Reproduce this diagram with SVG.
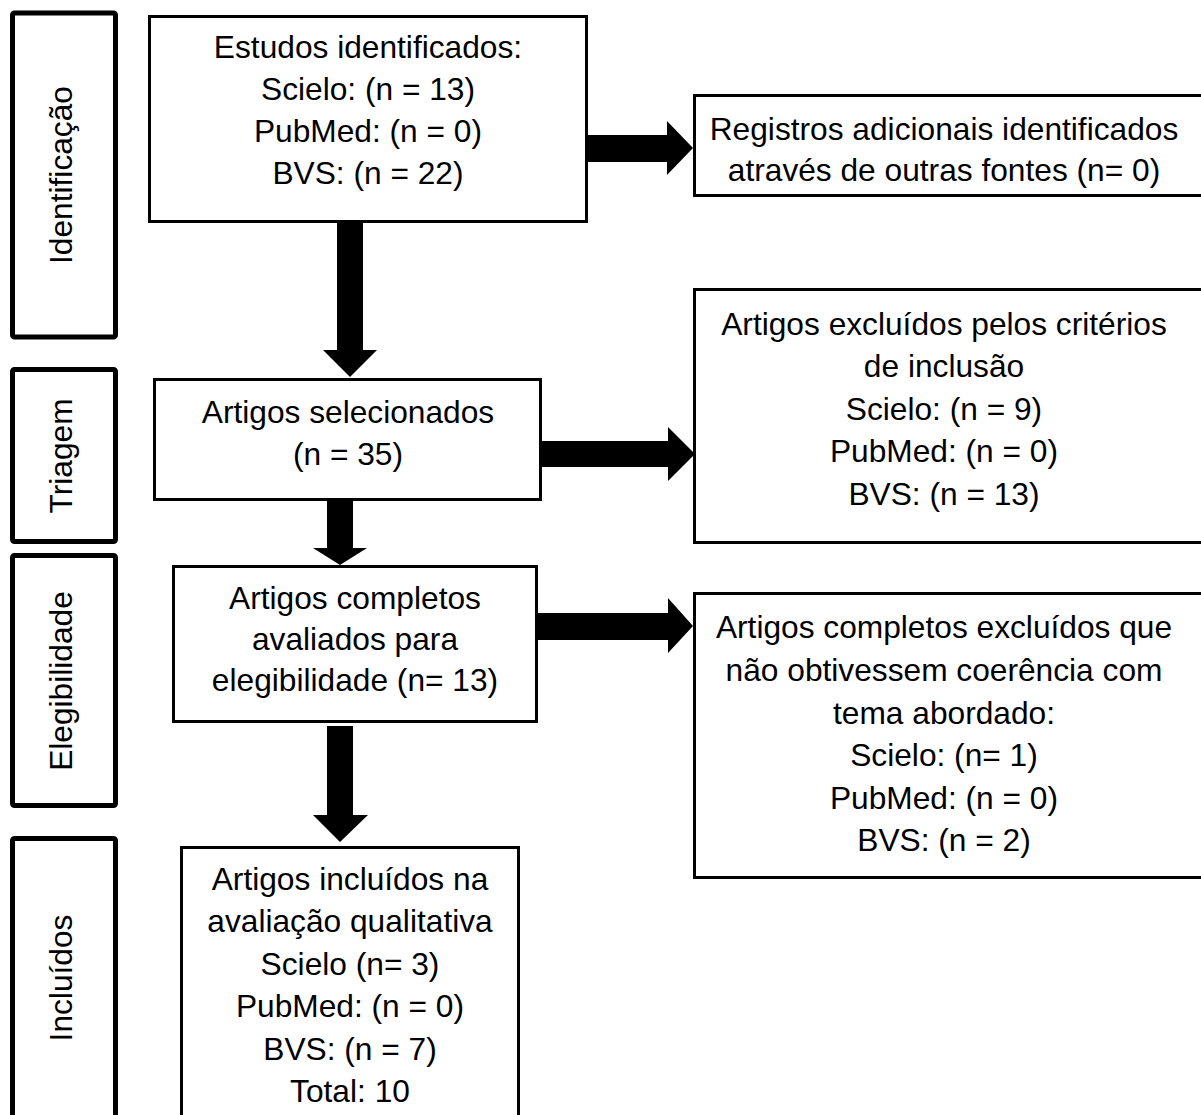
<svg xmlns="http://www.w3.org/2000/svg" width="1201" height="1115" viewBox="0 0 1201 1115">
<style>
  .stage { fill: #fff; stroke: #000; stroke-width: 5; stroke-linejoin: round; }
  .box { fill: #fff; stroke: #000; stroke-width: 3; }
  .t { font-family: "Liberation Sans", Arial, sans-serif; font-size: 31.7px; fill: #000; text-anchor: middle; }
  .arrow { fill: #000; stroke: none; }
</style>
<rect width="1201" height="1115" fill="#fff"/>

<g id="stage-identificacao">
  <rect class="stage" x="12.5" y="13" width="103" height="324" rx="2"/>
  <text class="t" transform="translate(72,175) rotate(-90)">Identificação</text>
</g>
<g id="stage-triagem">
  <rect class="stage" x="12.5" y="369.5" width="103" height="172" rx="2"/>
  <text class="t" transform="translate(72,456) rotate(-90)">Triagem</text>
</g>
<g id="stage-elegibilidade">
  <rect class="stage" x="12.5" y="555.5" width="103" height="250" rx="2"/>
  <text class="t" transform="translate(72,681) rotate(-90)">Elegibilidade</text>
</g>
<g id="stage-incluidos">
  <rect class="stage" x="12.5" y="838.5" width="103" height="300" rx="2"/>
  <text class="t" transform="translate(72,978) rotate(-90)">Incluídos</text>
</g>

<g id="box-estudos">
  <rect class="box" x="149.5" y="16.5" width="437" height="205"/>
  <text class="t" x="368" y="58">Estudos identificados:</text>
  <text class="t" x="368" y="100">Scielo: (n = 13)</text>
  <text class="t" x="368" y="142">PubMed: (n = 0)</text>
  <text class="t" x="368" y="184">BVS: (n = 22)</text>
</g>
<g id="box-registros">
  <rect class="box" x="694.5" y="95.5" width="520" height="100"/>
  <text class="t" x="944" y="140">Registros adicionais identificados</text>
  <text class="t" x="944" y="181">através de outras fontes (n= 0)</text>
</g>
<g id="box-selecionados">
  <rect class="box" x="154.5" y="379.5" width="386" height="120"/>
  <text class="t" x="348" y="423">Artigos selecionados</text>
  <text class="t" x="348" y="465">(n = 35)</text>
</g>
<g id="box-excluidos-criterios">
  <rect class="box" x="694.5" y="289.5" width="520" height="253"/>
  <text class="t" x="944" y="335">Artigos excluídos pelos critérios</text>
  <text class="t" x="944" y="377">de inclusão</text>
  <text class="t" x="944" y="420">Scielo: (n = 9)</text>
  <text class="t" x="944" y="462">PubMed: (n = 0)</text>
  <text class="t" x="944" y="505">BVS: (n = 13)</text>
</g>
<g id="box-completos">
  <rect class="box" x="173.5" y="566.5" width="363" height="155"/>
  <text class="t" x="355" y="609">Artigos completos</text>
  <text class="t" x="355" y="650">avaliados para</text>
  <text class="t" x="355" y="691">elegibilidade (n= 13)</text>
</g>
<g id="box-excluidos-tema">
  <rect class="box" x="694.5" y="593.5" width="520" height="284"/>
  <text class="t" x="944" y="638">Artigos completos excluídos que</text>
  <text class="t" x="944" y="681">não obtivessem coerência com</text>
  <text class="t" x="944" y="724">tema abordado:</text>
  <text class="t" x="944" y="766">Scielo: (n= 1)</text>
  <text class="t" x="944" y="809">PubMed: (n = 0)</text>
  <text class="t" x="944" y="851">BVS: (n = 2)</text>
</g>
<g id="box-incluidos">
  <rect class="box" x="181.5" y="847.5" width="337" height="300"/>
  <text class="t" x="350" y="890">Artigos incluídos na</text>
  <text class="t" x="350" y="932">avaliação qualitativa</text>
  <text class="t" x="350" y="975">Scielo (n= 3)</text>
  <text class="t" x="350" y="1017">PubMed: (n = 0)</text>
  <text class="t" x="350" y="1060">BVS: (n = 7)</text>
  <text class="t" x="350" y="1102">Total: 10</text>
</g>

<g id="connectors">
  <polygon class="arrow" points="337,220 363,220 363,350 377,350 350,377 323,350 337,350"/>
  <polygon class="arrow" points="588,135 667,135 667,121 693,148 667,175 667,162 588,162"/>
  <polygon class="arrow" points="542,441 668,441 668,427 695,454 668,481 668,467 542,467"/>
  <polygon class="arrow" points="327,501 353,501 353,548 367,548 340,565 313,548 327,548"/>
  <polygon class="arrow" points="538,613 668,613 668,598 693,626 668,653 668,640 538,640"/>
  <polygon class="arrow" points="327,726 353,726 353,815 368,815 340,842 313,815 327,815"/>
</g>
</svg>
